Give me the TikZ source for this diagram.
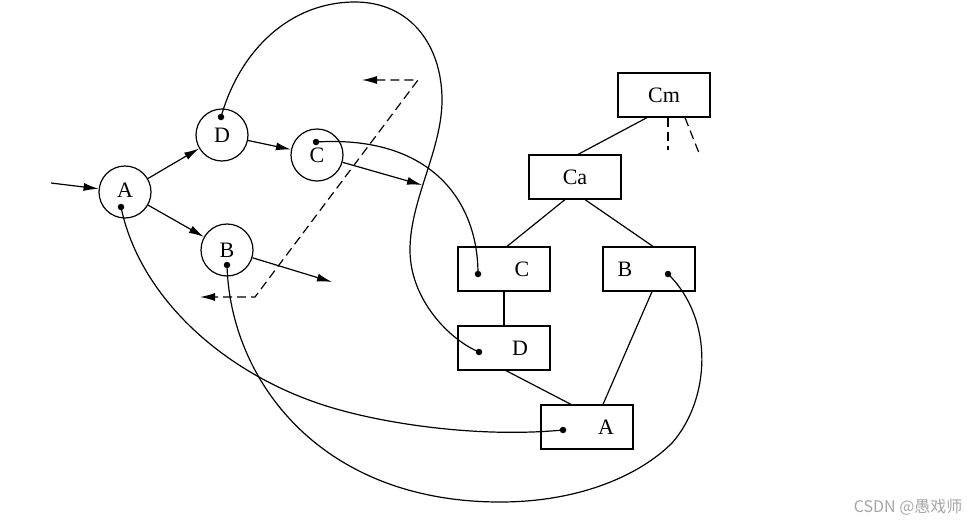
\documentclass[tikz,border=0pt]{standalone}
\usepackage{fontspec}
\setmainfont{Liberation Serif}
\newfontfamily\cjk{Noto Sans CJK SC}
\usetikzlibrary{arrows.meta,calc}
\begin{document}
\begin{tikzpicture}[x=1pt,y=-1pt,line width=1.2pt,
  arr/.style={-{Latex[length=15pt,width=8pt]}},
  circ/.style={circle,draw,minimum size=52pt,inner sep=0pt,font=\fontsize{22}{24}\selectfont},
  box/.style={rectangle,draw,minimum width=92pt,minimum height=44pt,inner sep=0pt},
  lbl/.style={font=\fontsize{22}{24}\selectfont,inner sep=0pt},
  dot/.style={circle,fill,inner sep=0pt,minimum size=6.5pt},
  dsh/.style={dash pattern=on 9pt off 5pt}]
\useasboundingbox (0,0) rectangle (967,525);

% circles
\node[circ] (cA) at (125,192) {\raisebox{3pt}{A}};
\node[circ] (cD) at (222,135) {D};
\node[circ] (cC) at (317,155) {\raisebox{-6pt}{C}};
\node[circ] (cB) at (227,250) {B};

% free ends
\coordinate (inA) at (51,183);
\coordinate (outB) at (332,282);
\coordinate (outC) at (422,185);

\draw[arr] (inA) -- (cA);
\draw[arr] (cA) -- (cD);
\draw[arr] (cA) -- (cB);
\draw[arr] (cD) -- (cC);
\draw[arr] (cB) -- (outB);
\draw[arr] (cC) -- (outC);

% dashed
\coordinate (d1) at (362,80);
\coordinate (d2) at (418,80);
\coordinate (d3) at (255,297);
\coordinate (d4) at (200,297);
\draw[dsh,{Latex[length=15pt,width=8pt]}-{Latex[length=15pt,width=8pt]}] (d1) -- (d2) -- (d3) -- (d4);

% boxes
\node[box] (rCm) at (664,95) {};
\node[box] (rCa) at (575,177) {};
\node[box] (rC) at (504,269) {};
\node[box] (rB) at (649,269) {};
\node[box] (rD) at (504,348) {};
\node[box] (rA) at (587,427) {};
\node[lbl] (tCm) at (rCm.center) {Cm};
\node[lbl] (tCa) at (rCa.center) {Ca};
\node[lbl] (tC) at ([xshift=18pt]rC.center) {C};
\node[lbl] (tB) at ([xshift=-24pt]rB.center) {B};
\node[lbl] (tD) at ([xshift=16pt]rD.center) {D};
\node[lbl] (tA) at ([xshift=19pt]rA.center) {A};

% tree lines
\draw ([xshift=-17pt]rCm.south) -- ([xshift=3pt]rCa.north);
\coordinate (cm1) at (668,150);
\coordinate (cm2) at (699,153);
\draw[dsh] ([xshift=4pt]rCm.south) -- (cm1);
\draw[dsh] ([xshift=21pt]rCm.south) -- (cm2);
\draw ([xshift=-10pt]rCa.south) -- ([xshift=3pt]rC.north);
\draw ([xshift=10pt]rCa.south) -- ([xshift=4pt]rB.north);
\draw (rC.south) -- (rD.north);
\draw ([xshift=2pt]rD.south) -- ([xshift=-16pt]rA.north);
\draw ([xshift=3pt]rB.south) -- ([xshift=16pt]rA.north);

% dots
\node[dot] (dA) at (121,207) {};
\node[dot] (dD) at (221,117) {};
\node[dot] (dC) at (316,142) {};
\node[dot] (dB) at (227,265) {};
\node[dot] (eC) at (478,274) {};
\node[dot] (eB) at (668,274) {};
\node[dot] (eD) at (479,352) {};
\node[dot] (eA) at (563,430) {};

% curves
\draw (dD.center) .. controls (240,50) and (290,2) .. (355,2)
  .. controls (410,2) and (442,45) .. (442,100)
  .. controls (442,150) and (410,200) .. (410,250)
  .. controls (410,300) and (450,340) .. (eD.center);
\draw (dC.center) .. controls (430,135) and (478,200) .. (eC.center);
\draw (dA.center) .. controls (140,300) and (230,380) .. (340,410)
  .. controls (390,424) and (480,438) .. (eA.center);
\draw (dB.center) .. controls (230,380) and (320,502) .. (500,502)
  .. controls (580,502) and (640,475) .. (672,443)
  .. controls (710,400) and (715,320) .. (eB.center);

% watermark
\node[anchor=east,text=black!35,font=\cjk\fontsize{16}{18}\selectfont,inner sep=0pt] (wm) at (963,507) {CSDN @愚戏师};
\end{tikzpicture}
\end{document}
